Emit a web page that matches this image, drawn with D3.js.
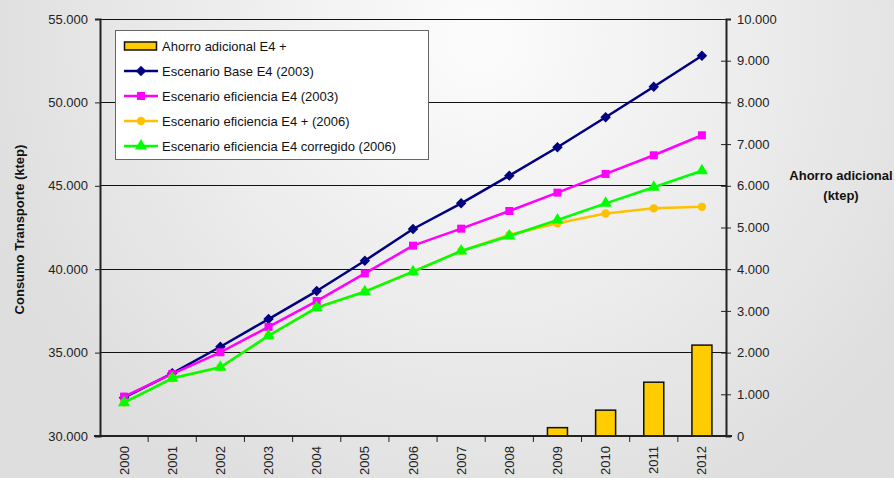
<!DOCTYPE html>
<html>
<head>
<meta charset="utf-8">
<script src="https://cdn.jsdelivr.net/npm/d3@7"></script>
<style>
  html, body { margin: 0; padding: 0; }
  body { width: 894px; height: 478px; overflow: hidden; }
  text { font-family: "Liberation Sans", Arial, sans-serif; }
</style>
</head>
<body>
<svg id="chart" width="894" height="478"></svg>
<script>
const years = ["2000","2001","2002","2003","2004","2005","2006","2007","2008","2009","2010","2011","2012"];
const baseE4 = [32300, 33760, 35350, 37010, 38690, 40510, 42410, 43950, 45610, 47310, 49110, 50940, 52800];
const eficienciaE4 = [32360, 33720, 35020, 36540, 38090, 39750, 41410, 42430, 43490, 44590, 45710, 46830, 48030];
const eficienciaE4plus = [32000, 33460, 34120, 36010, 37700, 38650, 39850, 41100, 42060, 42750, 43340, 43650, 43740];
const eficienciaCorregido = [32000, 33460, 34120, 36010, 37700, 38650, 39850, 41090, 41990, 42950, 43950, 44910, 45900];
const ahorroAdicional = [null, null, null, null, null, null, null, null, null, 200, 620, 1290, 2180];
const leftTicks = [30000, 35000, 40000, 45000, 50000, 55000];
const rightTicks = [0, 1000, 2000, 3000, 4000, 5000, 6000, 7000, 8000, 9000, 10000];
const leftTitle = "Consumo Transporte (ktep)";
const rightTitle = ["Ahorro adicional", "(ktep)"];
const legendLabels = ["Ahorro adicional E4 +", "Escenario Base E4 (2003)", "Escenario eficiencia E4 (2003)", "Escenario eficiencia E4 + (2006)", "Escenario eficiencia E4 corregido (2006)"];

const svg = d3.select("#chart");
const W = 894, H = 478;
const L = 100, R = 726, T = 19, B = 436;

const loc = d3.formatLocale({decimal: ",", thousands: ".", grouping: [3], currency: ["", ""]});
const fmt = loc.format(",.0f");

// background gradient
const defs = svg.append("defs");
const rg = defs.append("radialGradient").attr("id", "bg")
  .attr("gradientUnits", "userSpaceOnUse")
  .attr("cx", 480).attr("cy", 40).attr("r", 520);
rg.append("stop").attr("offset", "0%").attr("stop-color", "#fcfcfc");
rg.append("stop").attr("offset", "100%").attr("stop-color", "#dedede");
svg.append("rect").attr("width", W).attr("height", H).attr("fill", "url(#bg)");

const x = d3.scaleBand().domain(years).range([L, R]).padding(0);
const yL = d3.scaleLinear().domain([30000, 55000]).range([B, T]);
const yR = d3.scaleLinear().domain([0, 10000]).range([B, T]);

// gridlines
svg.append("g").selectAll("line").data(leftTicks.filter(d => d > 30000)).join("line")
  .attr("x1", L).attr("x2", R).attr("y1", d => yL(d)).attr("y2", d => yL(d))
  .attr("stroke", "#111").attr("stroke-width", 1).attr("shape-rendering", "crispEdges");

// bars
const bw = 20;
svg.append("g").selectAll("rect").data(years.map((y, i) => ({y, v: ahorroAdicional[i]})).filter(d => d.v != null)).join("rect")
  .attr("x", d => x(d.y) + x.bandwidth() / 2 - bw / 2)
  .attr("width", bw)
  .attr("y", d => yR(d.v))
  .attr("height", d => yR(0) - yR(d.v))
  .attr("fill", "#ffcc00").attr("stroke", "#111").attr("stroke-width", 1.5);

// axes
const axL = svg.append("g").attr("transform", `translate(${L},0)`)
  .call(d3.axisLeft(yL).tickValues(leftTicks).tickFormat(fmt).tickSize(5).tickPadding(7));
const axR = svg.append("g").attr("transform", `translate(${R},0)`)
  .call(d3.axisRight(yR).tickValues(rightTicks).tickFormat(fmt).tickSize(5).tickPadding(6));
axR.selectAll(".tick line").attr("x1", -5);
const axB = svg.append("g").attr("transform", `translate(0,${B})`)
  .call(d3.axisBottom(x).tickSize(0).tickFormat(""));
[axL, axR, axB].forEach(a => {
  a.select(".domain").attr("stroke", "#222").attr("stroke-width", 2);
  a.selectAll(".tick line").attr("stroke", "#222").attr("stroke-width", 1);
  a.selectAll(".tick text").attr("font-size", 13).attr("fill", "#222")
    .style("font-family", '"Liberation Sans", Arial, sans-serif');
});
axB.select(".domain").attr("d", `M${L - 6},0H${R + 6}`);
// category boundary ticks
svg.append("g").selectAll("line").data(years.slice(1)).join("line")
  .attr("x1", d => x(d)).attr("x2", d => x(d)).attr("y1", B).attr("y2", B + 6)
  .attr("stroke", "#222");
// year labels
svg.append("g").selectAll("text").data(years).join("text")
  .attr("transform", d => `translate(${x(d) + x.bandwidth() / 2},${B + 10}) rotate(-90)`)
  .attr("text-anchor", "end").attr("dy", "0.35em")
  .attr("font-size", 13).attr("fill", "#222").text(d => d);

// titles
svg.append("text").attr("transform", `translate(24,${(T + B) / 2 + 2}) rotate(-90)`)
  .attr("text-anchor", "middle").attr("font-size", 13).attr("font-weight", "bold").attr("fill", "#111")
  .text(leftTitle);
svg.append("text").attr("x", 841).attr("y", 180).attr("text-anchor", "middle")
  .attr("font-size", 13).attr("font-weight", "bold").attr("fill", "#111")
  .selectAll("tspan").data(rightTitle).join("tspan")
  .attr("x", 841).attr("dy", (d, i) => i === 0 ? 0 : 20).text(d => d);

// lines
const series = [
  {vals: baseE4, color: "#000080", shape: d3.symbolDiamond2, size: 70},
  {vals: eficienciaE4, color: "#ff00ff", shape: d3.symbolSquare, size: 64},
  {vals: eficienciaE4plus, color: "#ffc000", shape: d3.symbolCircle, size: 55},
  {vals: eficienciaCorregido, color: "#00ff00", shape: d3.symbolTriangle, size: 64}
];
const line = d3.line().x((d, i) => x(years[i]) + x.bandwidth() / 2).y(d => yL(d));
series.forEach(s => {
  svg.append("path").datum(s.vals).attr("d", line).attr("fill", "none")
    .attr("stroke", s.color).attr("stroke-width", 2.5).attr("stroke-linejoin", "round");
  svg.append("g").selectAll("path").data(s.vals).join("path")
    .attr("transform", (d, i) => `translate(${x(years[i]) + x.bandwidth() / 2},${yL(d)})`)
    .attr("d", d3.symbol().type(s.shape).size(s.size)).attr("fill", s.color);
});

// legend
const lg = svg.append("g");
lg.append("rect").attr("x", 115.5).attr("y", 30.5).attr("width", 313).attr("height", 129)
  .attr("fill", "#fff").attr("stroke", "#666").attr("stroke-width", 1);
const rowY = [46, 71, 96, 121, 146];
lg.append("rect").attr("x", 124.5).attr("y", rowY[0] - 4).attr("width", 32).attr("height", 8)
  .attr("fill", "#ffcc00").attr("stroke", "#111").attr("stroke-width", 1.5);
series.forEach((s, i) => {
  const yy = rowY[i + 1];
  lg.append("line").attr("x1", 124).attr("x2", 158).attr("y1", yy).attr("y2", yy)
    .attr("stroke", s.color).attr("stroke-width", 2.5);
  lg.append("path").attr("transform", `translate(141,${yy})`)
    .attr("d", d3.symbol().type(s.shape).size(s.size)).attr("fill", s.color);
});
lg.selectAll("text").data(legendLabels).join("text")
  .attr("x", 162).attr("y", (d, i) => rowY[i]).attr("dy", "0.35em")
  .attr("font-size", 13).attr("fill", "#111").text(d => d);
</script>
</body>
</html>
